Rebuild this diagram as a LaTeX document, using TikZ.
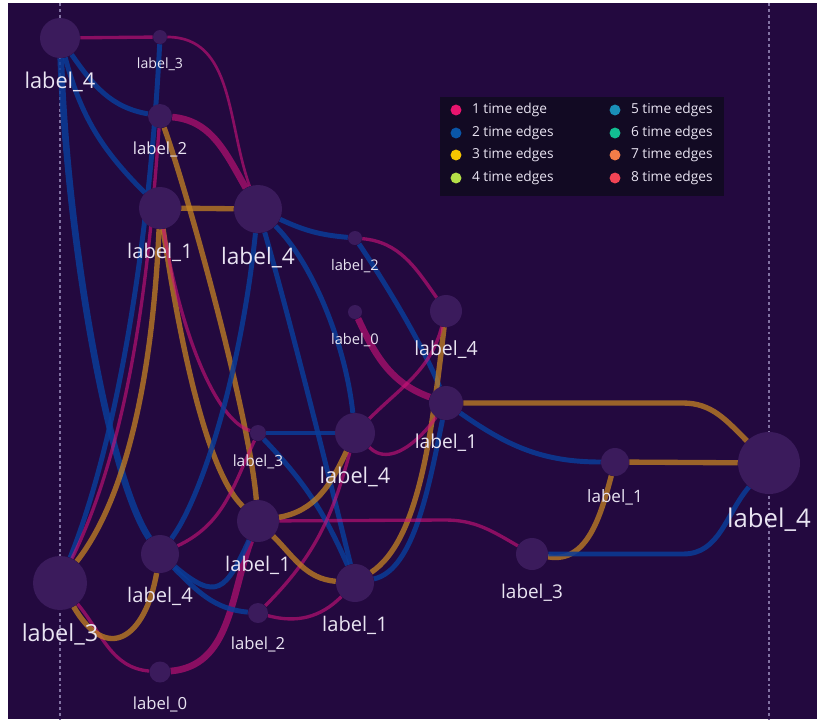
\documentclass[tikz,border=0pt]{standalone}
\usepackage{fontspec}
\setmainfont{Open Sans}
\usepackage{xcolor}
\usetikzlibrary{positioning}

\definecolor{bgpurple}{HTML}{23093F}
\definecolor{nodepurple}{HTML}{3B1B5C}
\definecolor{labelwhite}{HTML}{E9E4F2}
\definecolor{legendbg}{HTML}{120A23}
\definecolor{guidegray}{HTML}{8272A2}
\definecolor{pinkedge}{HTML}{D0127A}
\definecolor{blueedge}{HTML}{0A3C98}
\definecolor{goldedge}{HTML}{C48222}
\definecolor{once}{HTML}{E8146E}
\definecolor{twice}{HTML}{0A56A8}
\definecolor{thrice}{HTML}{F5C400}
\definecolor{fourtimes}{HTML}{B5E048}
\definecolor{fivetimes}{HTML}{1A8FB8}
\definecolor{sixtimes}{HTML}{12BE92}
\definecolor{seventimes}{HTML}{F27D48}
\definecolor{eighttimes}{HTML}{F24455}

\pgfdeclarelayer{bg}
\pgfdeclarelayer{edges}
\pgfsetlayers{bg,edges,main}

\tikzset{
	vtx/.style n args={3}{circle, fill=nodepurple, inner sep=0pt, minimum size=#1*1.5pt, label distance=0pt,
		label={[text=labelwhite, inner sep=0pt, yshift=-10pt, font=\fontsize{#2}{#2}\selectfont]below:#3}},
	e1/.style={draw=pinkedge, draw opacity=0.6, line width=2.5pt},
	e2/.style={draw=blueedge, draw opacity=0.85, line width=3.7pt},
	e3/.style={draw=goldedge, draw opacity=0.75, line width=4pt},
	heavy/.style={line width=5pt},
	guide/.style={draw=guidegray, line width=1.6pt, dash pattern=on 2.2pt off 2.2pt},
	keydot/.style={circle, inner sep=0pt, minimum size=8.2pt},
	keytxt/.style={text=labelwhite, inner sep=0pt, font=\fontsize{10.3}{12}\selectfont},
}

\begin{document}
\begin{tikzpicture}[x=0.75pt, y=-0.75pt]
	\useasboundingbox (0,0) rectangle (817,722);
	\begin{pgfonlayer}{bg}
	\fill[white] (0,0) rectangle (817,722);
	\fill[bgpurple] (8,3) rectangle (817,719);
	\draw[guide] (60,3) -- (60,719);
	\draw[guide] (769,3) -- (769,719);
	\end{pgfonlayer}

	\node[vtx={20}{16.3}{label\_4}] (0) at (60,38) {};
	\node[vtx={7}{10.6}{label\_3}] (1) at (160,37) {};
	\node[vtx={12}{12.5}{label\_2}] (2) at (160,116) {};
	\node[vtx={21}{15.1}{label\_1}] (3) at (160,208) {};
	\node[vtx={24}{17}{label\_4}] (4) at (258,209) {};
	\node[vtx={7}{11}{label\_2}] (5) at (355,238) {};
	\node[vtx={7}{11}{label\_0}] (6) at (355,312) {};
	\node[vtx={16}{14.6}{label\_4}] (7) at (446,311) {};
	\node[vtx={17}{14.4}{label\_1}] (8) at (446,403) {};
	\node[vtx={8}{11.6}{label\_3}] (9) at (258,433) {};
	\node[vtx={20}{16.3}{label\_4}] (10) at (355,433) {};
	\node[vtx={14}{12.8}{label\_1}] (11) at (615,462) {};
	\node[vtx={31}{19.3}{label\_4}] (12) at (769,463) {};
	\node[vtx={21}{15.1}{label\_1}] (13) at (258,521) {};
	\node[vtx={16}{14.2}{label\_3}] (14) at (532,554) {};
	\node[vtx={19}{15.1}{label\_4}] (15) at (160,554) {};
	\node[vtx={27}{17.6}{label\_3}] (16) at (60,583) {};
	\node[vtx={19}{15.1}{label\_1}] (17) at (355,583) {};
	\node[vtx={10}{12.5}{label\_2}] (18) at (258,613) {};
	\node[vtx={10.5}{12.5}{label\_0}] (19) at (160,672) {};

	\coordinate (IMb) at (683,403);
	\coordinate (OMb) at (683,554);
	\coordinate (NOb) at (445,520);

	\begin{pgfonlayer}{edges}
	\draw[e1] (0) -- (1);
	\draw[e1, line width=2pt] (1) to[out=0,in=110] (4);
	\draw[e2] (1) .. controls (152,200) and (125,420) .. (16);
	\draw[e2] (0) to[out=-55,in=170] (2);
	\draw[e2] (0) to[out=-75,in=135] (3);
	\draw[e2, heavy] (0) .. controls (68,250) and (110,480) .. (15);
	\draw[e1, heavy] (2) to[out=-5,in=120] (4);
	\draw[e1] (2) .. controls (150,250) and (135,430) .. (16);
	\draw[e3] (3) .. controls (155,320) and (140,480) .. (16);
	\draw[e3] (3) -- (4);
	\draw[e3] (2) .. controls (190,200) and (250,420) .. (13);
	\draw[e3] (3) .. controls (178,330) and (205,470) .. (13);
	\draw[e1] (3) .. controls (180,330) and (215,420) .. (9);
	\draw[e2] (4) to[out=-25,in=175] (5);
	\draw[e2] (4) .. controls (310,260) and (345,340) .. (10);
	\draw[e2] (4) .. controls (290,320) and (330,480) .. (17);
	\draw[e2] (4) .. controls (240,380) and (200,500) .. (15);
	\draw[e1] (5) to[out=-5,in=125] (7);
	\draw[e2] (5) .. controls (390,290) and (425,350) .. (8);
	\draw[e2] (8) to[out=-35,in=180] (11);
	\draw[e1, heavy] (6) to[out=-65,in=160] (8);
	\draw[e3] (7) .. controls (432,430) and (420,540) .. (17);
	\draw[e2] (8) .. controls (430,480) and (415,570) .. (17);
	\draw[e3] (8) -- (IMb) to[out=0,in=135] (12);
	\draw[e3] (11) -- (12);
	\draw[e3] (11) to[out=-105,in=-10] (14);
	\draw[e2] (14) -- (OMb) to[out=0,in=-130] (12);
	\draw[e1] (13) -- (NOb) to[out=0,in=150] (14);
	\draw[e2] (9) -- (10);
	\draw[e2] (9) to[bend left=10] (17);
	\draw[e1] (9) to[out=-115,in=25] (15);
	\draw[e1] (10) to[out=45,in=-105] (7);
	\draw[e1] (10) to[out=-45,in=-125] (8);
	\draw[e3] (10) to[out=-115,in=10] (13);
	\draw[e1] (10) to[out=-105,in=45] (18);
	\draw[e3] (13) to[out=-45,in=175] (17);
	\draw[e1, heavy] (19) to[out=5,in=-110] (13);
	\draw[e1] (16) to[out=-50,in=175] (19);
	\draw[e3] (16) to[out=-60,in=-100,looseness=1.9] (15);
	\draw[e2] (15) to[out=-40,in=-115,looseness=1.8] (13);
	\draw[e2] (15) to[out=-45,in=175] (18);
	\draw[e1] (18) to[out=-15,in=-135] (17);
	\end{pgfonlayer}

	\node[fill=legendbg, anchor=north west, minimum width=213pt, minimum height=74.25pt] (legend) at (440,97) {};
	\node[keydot, fill=once] (k1) at (456,110) {};
	\node[keydot, fill=twice] (k2) at (456,133) {};
	\node[keydot, fill=thrice] (k3) at (456,155) {};
	\node[keydot, fill=fourtimes] (k4) at (456,178) {};
	\node[keydot, fill=fivetimes] (k5) at (615,110) {};
	\node[keydot, fill=sixtimes] (k6) at (615,133) {};
	\node[keydot, fill=seventimes] (k7) at (615,155) {};
	\node[keydot, fill=eighttimes] (k8) at (615,178) {};
	\node[keytxt, right=7.5pt of k1] (t1) {1 time edge};
	\node[keytxt, right=7.5pt of k2] (t2) {2 time edges};
	\node[keytxt, right=7.5pt of k3] (t3) {3 time edges};
	\node[keytxt, right=7.5pt of k4] (t4) {4 time edges};
	\node[keytxt, right=7.5pt of k5] (t5) {5 time edges};
	\node[keytxt, right=7.5pt of k6] (t6) {6 time edges};
	\node[keytxt, right=7.5pt of k7] (t7) {7 time edges};
	\node[keytxt, right=7.5pt of k8] (t8) {8 time edges};
\end{tikzpicture}
\end{document}
